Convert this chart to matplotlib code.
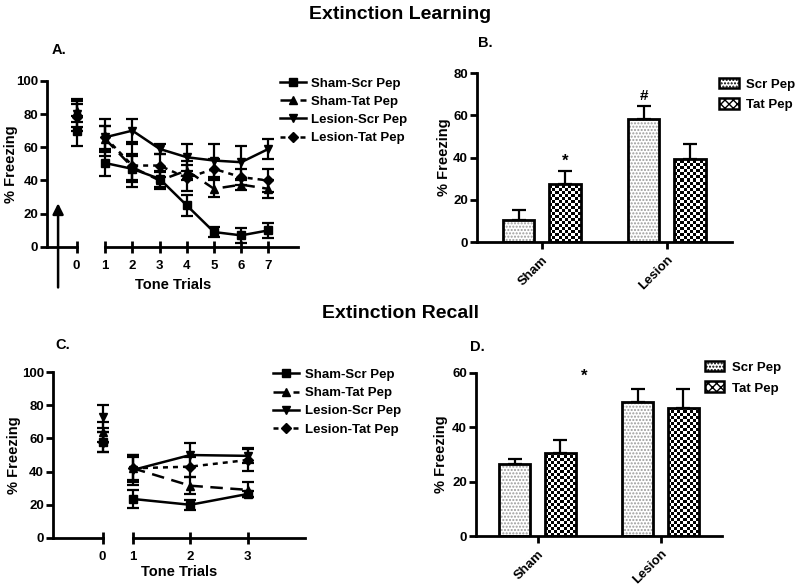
import matplotlib.pyplot as plt
import numpy as np
from matplotlib.lines import Line2D
from matplotlib.patches import Patch

plt.rcParams['font.family'] = ['Liberation Sans', 'DejaVu Sans']
plt.rcParams['font.weight'] = 'bold'
plt.rcParams['hatch.linewidth'] = 1.0

groups = ['Sham-Scr Pep', 'Sham-Tat Pep', 'Lesion-Scr Pep', 'Lesion-Tat Pep']
markers = ['s', '^', 'v', 'D']
styles = ['-', (0, (5, 3)), '-', (0, (2, 2))]
msizes = [6, 6, 6, 5]

# Extinction learning, trials 0..7
learn_trials = [0, 1, 2, 3, 4, 5, 6, 7]
learn_mean = [
    [70, 50.5, 47, 41, 25, 9, 7, 10],
    [82, 65, 48, 40, 46, 35, 37.5, 35],
    [80, 66, 70, 59, 54, 52, 51, 59],
    [78, 66, 49, 49, 41.5, 47, 42, 40],
]
learn_sem = [
    [9, 8, 8, 5, 6.5, 3, 4.5, 4.5],
    [7, 8, 8, 5, 6, 5, 3, 5.5],
    [8, 11, 7, 3, 8, 10, 10, 6],
    [8, 7, 13, 7, 8, 6, 5, 7],
]

# Extinction recall, trials 0..3
recall_trials = [0, 1, 2, 3]
recall_mean = [
    [58, 23.5, 20, 26.5],
    [64, 42, 31.5, 29],
    [73, 41, 50, 49.5],
    [58, 42, 43, 47],
]
recall_sem = [
    [6, 5.5, 3, 2],
    [6, 7, 5, 4.5],
    [7, 9, 7.5, 4.5],
    [6, 8, 6, 6.5],
]

bar_groups = ['Sham', 'Lesion']
peptides = ['Scr Pep', 'Tat Pep']
learn_bar_mean = [[10.5, 58.5], [27.5, 39.5]]
learn_bar_sem = [[4.5, 6], [6, 7]]
recall_bar_mean = [[26.5, 49.5], [30.5, 47]]
recall_bar_sem = [[2, 4.5], [5, 7]]

FIG_W, FIG_H = 800, 586


def line_panel(ax, trials, means, sems, x0, xlim, ymax=100):
    xs = np.array([x0] + list(trials[1:]), dtype=float)
    for i in range(len(means)):
        m = np.array(means[i])
        s = np.array(sems[i])
        ax.errorbar(xs, m, yerr=s, fmt='none', ecolor='black', elinewidth=1.6,
                    capsize=4, capthick=1.6, clip_on=False, zorder=3)
        ax.plot(xs[1:], m[1:], color='black', lw=1.8, linestyle=styles[i],
                marker=markers[i], ms=msizes[i], clip_on=False, zorder=4)
        ax.plot(xs[:1], m[:1], color='black', marker=markers[i], ms=msizes[i],
                linestyle='none', clip_on=False, zorder=4)
    ax.set_xlim(*xlim)
    ax.set_ylim(0, ymax)
    ax.set_yticks(np.arange(0, ymax + 1, 20))
    ax.set_xticks(xs)
    ax.set_xticklabels([str(t) for t in trials])
    for sp in ['top', 'right', 'bottom']:
        ax.spines[sp].set_visible(False)
    ax.spines['left'].set_linewidth(2)
    ax.plot([xlim[0], x0], [0, 0], color='black', lw=2, clip_on=False)
    ax.plot([1, xlim[1]], [0, 0], color='black', lw=2, clip_on=False)
    ax.tick_params(axis='x', direction='inout', length=9, width=2, pad=5, labelsize=9.5)
    ax.tick_params(axis='y', direction='out', length=5, width=2, pad=1.5, labelsize=9.5)
    ax.set_ylabel('% Freezing', fontsize=10.5, fontweight='bold')


def checker_fill(ax, bar, cell_px=3.0):
    # paint a black/white checkerboard inside one bar
    pos = ax.get_position()
    xl = ax.get_xlim()
    yl = ax.get_ylim()
    px_x = pos.width * FIG_W / (xl[1] - xl[0])
    px_y = pos.height * FIG_H / (yl[1] - yl[0])
    x, w, h = bar.get_x(), bar.get_width(), bar.get_height()
    nx = max(1, int(round(w * px_x / cell_px)))
    ny = max(1, int(round(h * px_y / cell_px)))
    img = (np.add.outer(np.arange(ny), np.arange(nx)) % 2).astype(float)
    im = ax.imshow(img, cmap='gray', extent=[x, x + w, 0, ny * cell_px / px_y],
                   origin='lower', interpolation='nearest', aspect='auto', zorder=2)
    im.set_clip_path(bar)
    ax.set_xlim(*xl)
    ax.set_ylim(*yl)


def bar_panel(ax, means, sems, xlim, ymax, step):
    x = np.arange(len(bar_groups))
    offs = [-0.185, 0.185]
    ax.set_xlim(*xlim)
    ax.set_ylim(0, ymax)
    for j in range(2):
        pos = x + offs[j]
        if j == 0:
            ax.bar(pos, means[j], width=0.25, color='white', edgecolor='#9a9a9a',
                   hatch='.....', lw=0, zorder=2)
        else:
            bars = ax.bar(pos, means[j], width=0.25, color='white', lw=0, zorder=1)
            for b in bars:
                checker_fill(ax, b)
        ax.bar(pos, means[j], width=0.25, color='none', edgecolor='black', lw=2, zorder=3)
        ax.errorbar(pos, means[j], yerr=[np.zeros(2), sems[j]], fmt='none',
                    ecolor='black', elinewidth=1.6, capsize=5, capthick=1.6, zorder=1)
    ax.set_xlim(*xlim)
    ax.set_ylim(0, ymax)
    ax.set_yticks(np.arange(0, ymax + 1, step))
    ax.set_xticks(x)
    ax.set_xticklabels(bar_groups, rotation=45, ha='right', rotation_mode='anchor')
    for sp in ['top', 'right']:
        ax.spines[sp].set_visible(False)
    ax.spines['left'].set_linewidth(2)
    ax.spines['bottom'].set_linewidth(2)
    ax.tick_params(axis='x', direction='out', length=5, width=2, labelsize=9.5)
    ax.tick_params(axis='y', direction='out', length=5, width=2, pad=1.5, labelsize=9.5)
    ax.set_ylabel('% Freezing', fontsize=10.5, fontweight='bold')


fig = plt.figure(figsize=(8, 5.86), dpi=100)

axA = fig.add_axes([0.059, 0.5785, 0.314, 0.2837])
line_panel(axA, learn_trials, learn_mean, learn_sem, -0.05, (-1.13, 8.1))
axA.annotate('', xy=(-0.73, 28), xytext=(-0.73, -26),
             arrowprops=dict(arrowstyle='-|>', color='black', lw=1.8, mutation_scale=16),
             annotation_clip=False)
axA.set_xlabel('Tone Trials', fontsize=10.5, fontweight='bold', labelpad=4)
axA.yaxis.set_label_coords(-0.115, 0.5)

axB = fig.add_axes([0.596, 0.587, 0.319, 0.288])
bar_panel(axB, learn_bar_mean, learn_bar_sem, (-0.52, 1.52), 80, 20)
axB.text(0.185, learn_bar_mean[1][0] + learn_bar_sem[1][0] + 1, '*', ha='center',
         va='bottom', fontsize=12, fontweight='bold')
axB.text(0.815, learn_bar_mean[0][1] + learn_bar_sem[0][1] + 1.5, '#', ha='center',
         va='bottom', fontsize=11, fontweight='bold')
axB.yaxis.set_label_coords(-0.1, 0.5)

axC = fig.add_axes([0.066, 0.082, 0.315, 0.283])
line_panel(axC, recall_trials, recall_mean, recall_sem, 0.47, (-0.4, 4.0))
axC.set_xlabel('Tone Trials', fontsize=10.5, fontweight='bold', labelpad=1)
axC.yaxis.set_label_coords(-0.127, 0.5)

axD = fig.add_axes([0.595, 0.0853, 0.3075, 0.2782])
bar_panel(axD, recall_bar_mean, recall_bar_sem, (-0.5, 1.5), 60, 20)
axD.text(0.38, 56, '*', ha='center', va='bottom', fontsize=12, fontweight='bold')
axD.yaxis.set_label_coords(-0.115, 0.5)

# legends
line_handles = [Line2D([0], [0], color='black', lw=1.8, linestyle=styles[i],
                       marker=markers[i], ms=msizes[i]) for i in range(4)]
bar_handles = [Patch(facecolor='white', edgecolor='black', hatch='.....', lw=1.8),
               Patch(facecolor='white', edgecolor='black', hatch='xxxx', lw=1.8)]
fig.legend(line_handles, groups, loc='upper left', bbox_to_anchor=(0.335, 0.888),
           frameon=False, fontsize=9.5, handlelength=2.0, handletextpad=0.35,
           labelspacing=0.45)
fig.legend(line_handles, groups, loc='upper left', bbox_to_anchor=(0.326, 0.391),
           frameon=False, fontsize=9.5, handlelength=2.0, handletextpad=0.45,
           labelspacing=0.45)
fig.legend(bar_handles, peptides, loc='upper left', bbox_to_anchor=(0.884, 0.888),
           frameon=False, fontsize=9.5, handlelength=1.5, handleheight=0.9,
           handletextpad=0.55, labelspacing=0.6)
fig.legend(bar_handles, peptides, loc='upper left', bbox_to_anchor=(0.866, 0.405),
           frameon=False, fontsize=9.5, handlelength=1.5, handleheight=0.9,
           handletextpad=0.55, labelspacing=0.6)

fig.text(0.5, 0.99, 'Extinction Learning', ha='center', va='top', fontsize=14, fontweight='bold')
fig.text(0.5, 0.48, 'Extinction Recall', ha='center', va='top', fontsize=14, fontweight='bold')
fig.text(0.065, 0.915, 'A.', fontsize=10.5, fontweight='bold', va='center')
fig.text(0.598, 0.927, 'B.', fontsize=10.5, fontweight='bold', va='center')
fig.text(0.069, 0.411, 'C.', fontsize=10.5, fontweight='bold', va='center')
fig.text(0.588, 0.408, 'D.', fontsize=10.5, fontweight='bold', va='center')

fig.savefig('out.png', dpi=100)
